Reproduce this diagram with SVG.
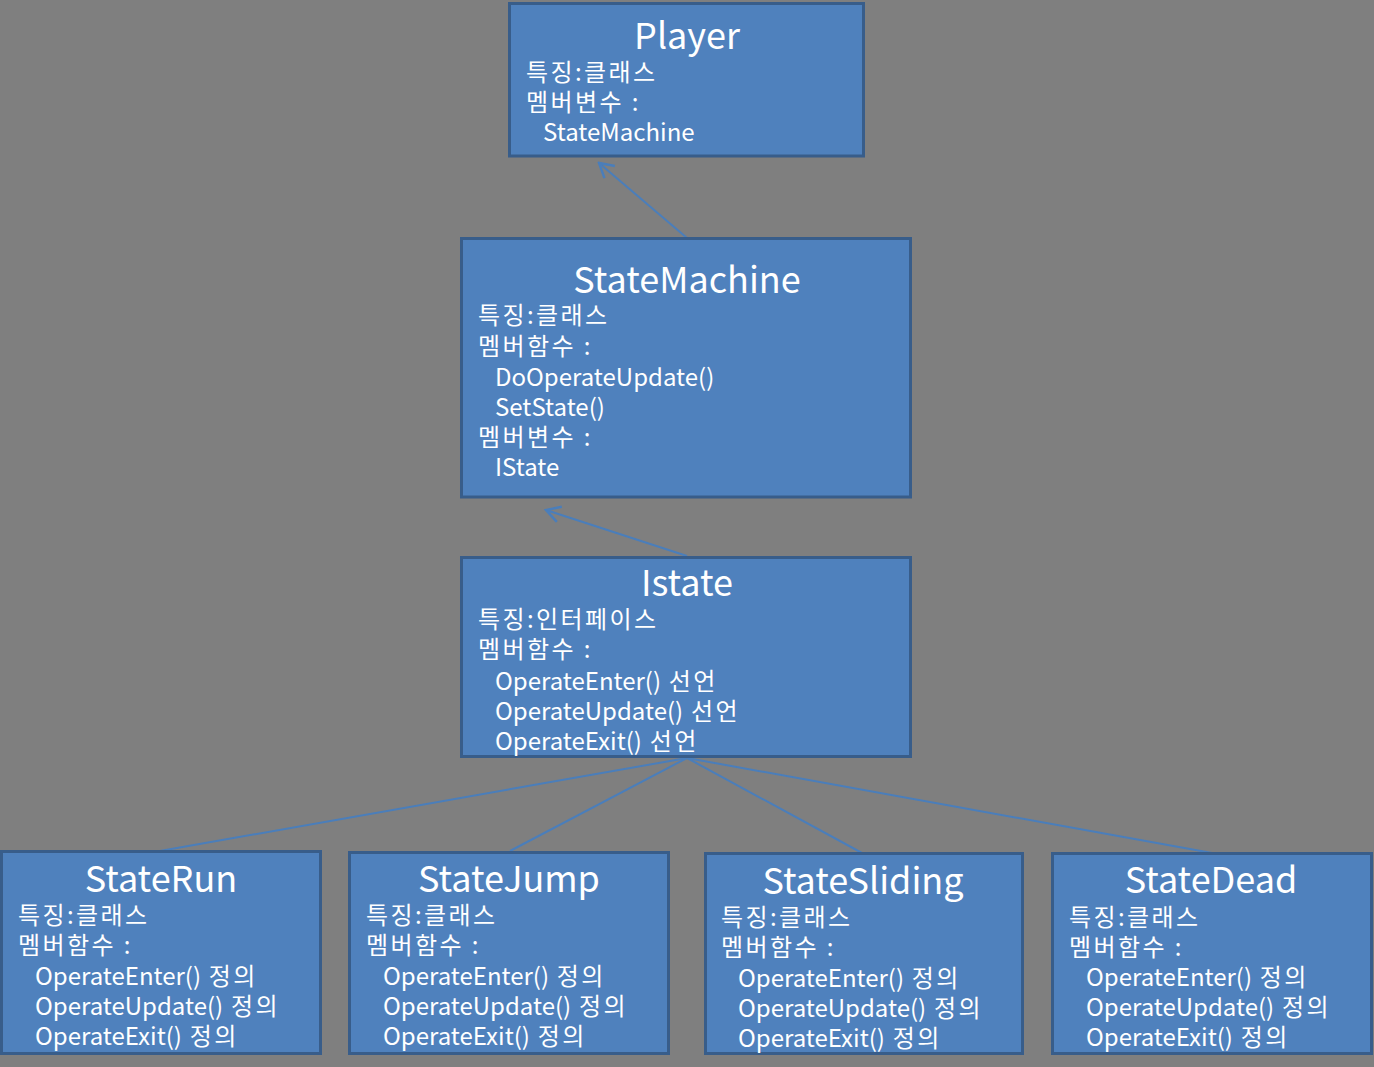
<svg xmlns="http://www.w3.org/2000/svg" width="1374" height="1067" viewBox="0 0 1374 1067">
<defs>
<style>
.box{fill:#4f81bd;stroke:#385d8a;stroke-width:3}
text{fill:#ffffff;font-family:"Noto Sans CJK KR","Noto Sans",sans-serif}
.t{font-size:36px;text-anchor:middle}
.b{font-size:24px}
.k{letter-spacing:2.4px}
.c{fill:none;stroke:#4a7ebb;stroke-width:2}
</style>
<marker id="arr" viewBox="0 0 20 20" refX="18" refY="10" markerWidth="20" markerHeight="20" markerUnits="userSpaceOnUse" orient="auto">
<path d="M4,2 L18,10 L4,18" fill="none" stroke="#4a7ebb" stroke-width="2.5"/>
</marker>
</defs>
<rect width="1374" height="1067" fill="#7f7f7f"/>
<g id="connectors">
<line class="c" x1="687" y1="238" x2="599" y2="163" marker-end="url(#arr)"/>
<line class="c" x1="687" y1="556" x2="546" y2="510" marker-end="url(#arr)"/>
<line class="c" x1="687" y1="758" x2="160" y2="851"/>
<line class="c" x1="687" y1="758" x2="510" y2="851"/>
<line class="c" x1="687" y1="758" x2="862" y2="853"/>
<line class="c" x1="687" y1="758" x2="1212" y2="853"/>
</g>
<g id="player">
<rect class="box" x="509.5" y="3.5" width="354" height="152.5"/>
<text class="t" x="687" y="49">Player</text>
<text class="b k" x="526" y="81">특징:클래스</text>
<text class="b k" x="526" y="111">멤버변수 :</text>
<text class="b" x="543" y="141">StateMachine</text>
</g>
<g id="statemachine">
<rect class="box" x="461.5" y="238.5" width="449" height="258.5"/>
<text class="t" x="687" y="293">StateMachine</text>
<text class="b k" x="478" y="324">특징:클래스</text>
<text class="b k" x="478" y="355">멤버함수 :</text>
<text class="b" x="495" y="386">DoOperateUpdate()</text>
<text class="b" x="495" y="416">SetState()</text>
<text class="b k" x="478" y="446">멤버변수 :</text>
<text class="b" x="495" y="476">IState</text>
</g>
<g id="istate">
<rect class="box" x="461.5" y="557.5" width="449" height="199"/>
<text class="t" x="687" y="596">Istate</text>
<text class="b k" x="478" y="628">특징:인터페이스</text>
<text class="b k" x="478" y="658">멤버함수 :</text>
<text class="b" x="495" y="690">OperateEnter()<tspan class="k"> 선언</tspan></text>
<text class="b" x="495" y="720">OperateUpdate()<tspan class="k"> 선언</tspan></text>
<text class="b" x="495" y="750">OperateExit()<tspan class="k"> 선언</tspan></text>
</g>
<g id="staterun">
<rect class="box" x="1.5" y="851.5" width="319" height="202"/>
<text class="t" x="161" y="892">StateRun</text>
<text class="b k" x="18" y="924">특징:클래스</text>
<text class="b k" x="18" y="954">멤버함수 :</text>
<text class="b" x="35" y="985">OperateEnter()<tspan class="k"> 정의</tspan></text>
<text class="b" x="35" y="1015">OperateUpdate()<tspan class="k"> 정의</tspan></text>
<text class="b" x="35" y="1045">OperateExit()<tspan class="k"> 정의</tspan></text>
</g>
<g id="statejump">
<rect class="box" x="349.5" y="852.5" width="319" height="201"/>
<text class="t" x="509" y="892">StateJump</text>
<text class="b k" x="366" y="924">특징:클래스</text>
<text class="b k" x="366" y="954">멤버함수 :</text>
<text class="b" x="383" y="985">OperateEnter()<tspan class="k"> 정의</tspan></text>
<text class="b" x="383" y="1015">OperateUpdate()<tspan class="k"> 정의</tspan></text>
<text class="b" x="383" y="1045">OperateExit()<tspan class="k"> 정의</tspan></text>
</g>
<g id="statesliding">
<rect class="box" x="705.5" y="853.5" width="317" height="200"/>
<text class="t" x="863" y="894">StateSliding</text>
<text class="b k" x="721" y="926">특징:클래스</text>
<text class="b k" x="721" y="956">멤버함수 :</text>
<text class="b" x="738" y="987">OperateEnter()<tspan class="k"> 정의</tspan></text>
<text class="b" x="738" y="1017">OperateUpdate()<tspan class="k"> 정의</tspan></text>
<text class="b" x="738" y="1047">OperateExit()<tspan class="k"> 정의</tspan></text>
</g>
<g id="statedead">
<rect class="box" x="1052.5" y="853.5" width="319" height="200"/>
<text class="t" x="1211" y="893">StateDead</text>
<text class="b k" x="1069" y="926">특징:클래스</text>
<text class="b k" x="1069" y="956">멤버함수 :</text>
<text class="b" x="1086" y="986">OperateEnter()<tspan class="k"> 정의</tspan></text>
<text class="b" x="1086" y="1016">OperateUpdate()<tspan class="k"> 정의</tspan></text>
<text class="b" x="1086" y="1046">OperateExit()<tspan class="k"> 정의</tspan></text>
</g>
</svg>
